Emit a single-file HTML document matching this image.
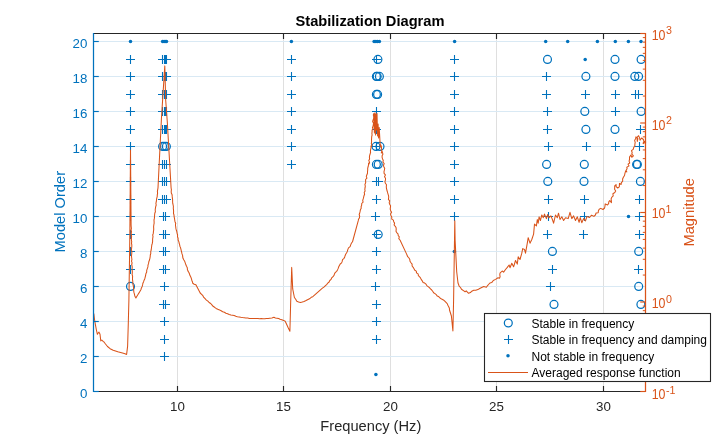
<!DOCTYPE html>
<html lang="en"><head><meta charset="utf-8"><title>Stabilization Diagram</title>
<style>html,body{margin:0;padding:0;background:#fff;overflow:hidden}svg text{white-space:pre}</style></head>
<body>
<svg width="714" height="440" viewBox="0 0 714 440" style="display:block" font-family="'Liberation Sans', Arial, Helvetica, sans-serif">
<rect width="714" height="440" fill="#fff"/>
<line x1="177.50" y1="33.5" x2="177.50" y2="391.5" stroke="#dfdfdf" stroke-width="1"/>
<line x1="283.50" y1="33.5" x2="283.50" y2="391.5" stroke="#dfdfdf" stroke-width="1"/>
<line x1="390.50" y1="33.5" x2="390.50" y2="391.5" stroke="#dfdfdf" stroke-width="1"/>
<line x1="496.50" y1="33.5" x2="496.50" y2="391.5" stroke="#dfdfdf" stroke-width="1"/>
<line x1="603.50" y1="33.5" x2="603.50" y2="391.5" stroke="#dfdfdf" stroke-width="1"/>
<line x1="93.5" y1="391.50" x2="645.5" y2="391.50" stroke="#d9e9f4" stroke-width="1"/>
<line x1="93.5" y1="356.50" x2="645.5" y2="356.50" stroke="#d9e9f4" stroke-width="1"/>
<line x1="93.5" y1="321.50" x2="645.5" y2="321.50" stroke="#d9e9f4" stroke-width="1"/>
<line x1="93.5" y1="286.50" x2="645.5" y2="286.50" stroke="#d9e9f4" stroke-width="1"/>
<line x1="93.5" y1="251.50" x2="645.5" y2="251.50" stroke="#d9e9f4" stroke-width="1"/>
<line x1="93.5" y1="216.50" x2="645.5" y2="216.50" stroke="#d9e9f4" stroke-width="1"/>
<line x1="93.5" y1="181.50" x2="645.5" y2="181.50" stroke="#d9e9f4" stroke-width="1"/>
<line x1="93.5" y1="146.50" x2="645.5" y2="146.50" stroke="#d9e9f4" stroke-width="1"/>
<line x1="93.5" y1="111.50" x2="645.5" y2="111.50" stroke="#d9e9f4" stroke-width="1"/>
<line x1="93.5" y1="76.50" x2="645.5" y2="76.50" stroke="#d9e9f4" stroke-width="1"/>
<line x1="93.5" y1="41.50" x2="645.5" y2="41.50" stroke="#d9e9f4" stroke-width="1"/>
<clipPath id="cp"><rect x="93.5" y="33.5" width="552.6" height="358.0"/></clipPath>
<g clip-path="url(#cp)">
<path d="M126.00 269.50H135.00M130.50 265.00V274.00M126.00 251.50H135.00M130.50 247.00V256.00M126.00 234.50H135.00M130.50 230.00V239.00M126.00 216.50H135.00M130.50 212.00V221.00M126.00 199.50H135.00M130.50 195.00V204.00M126.00 181.50H135.00M130.50 177.00V186.00M126.00 164.50H135.00M130.50 160.00V169.00M126.00 146.50H135.00M130.50 142.00V151.00M126.00 129.50H135.00M130.50 125.00V134.00M126.00 111.50H135.00M130.50 107.00V116.00M126.00 94.50H135.00M130.50 90.00V99.00M126.00 76.50H135.00M130.50 72.00V81.00M126.00 59.50H135.00M130.50 55.00V64.00M160.00 356.50H169.00M164.50 352.00V361.00M160.00 339.50H169.00M164.50 335.00V344.00M160.00 321.50H169.00M164.50 317.00V326.00M160.00 286.50H169.00M164.50 282.00V291.00M159.00 304.50H168.00M163.50 300.00V309.00M161.00 304.50H170.00M165.50 300.00V309.00M159.00 269.50H168.00M163.50 265.00V274.00M161.00 269.50H170.00M165.50 265.00V274.00M159.00 251.50H168.00M163.50 247.00V256.00M161.00 251.50H170.00M165.50 247.00V256.00M159.00 234.50H168.00M163.50 230.00V239.00M161.00 234.50H170.00M165.50 230.00V239.00M159.00 216.50H168.00M163.50 212.00V221.00M161.00 216.50H170.00M165.50 212.00V221.00M158.00 199.50H167.00M162.50 195.00V204.00M160.00 199.50H169.00M164.50 195.00V204.00M162.00 199.50H171.00M166.50 195.00V204.00M158.00 181.50H167.00M162.50 177.00V186.00M160.00 181.50H169.00M164.50 177.00V186.00M162.00 181.50H171.00M166.50 177.00V186.00M158.00 164.50H167.00M162.50 160.00V169.00M160.00 164.50H169.00M164.50 160.00V169.00M162.00 164.50H171.00M166.50 160.00V169.00M158.00 129.50H167.00M162.50 125.00V134.00M160.00 129.50H169.00M164.50 125.00V134.00M161.00 129.50H170.00M165.50 125.00V134.00M162.00 129.50H171.00M166.50 125.00V134.00M158.00 111.50H167.00M162.50 107.00V116.00M160.00 111.50H169.00M164.50 107.00V116.00M161.00 111.50H170.00M165.50 107.00V116.00M162.00 111.50H171.00M166.50 107.00V116.00M158.00 94.50H167.00M162.50 90.00V99.00M160.00 94.50H169.00M164.50 90.00V99.00M161.00 94.50H170.00M165.50 90.00V99.00M162.00 94.50H171.00M166.50 90.00V99.00M158.00 76.50H167.00M162.50 72.00V81.00M160.00 76.50H169.00M164.50 72.00V81.00M161.00 76.50H170.00M165.50 72.00V81.00M162.00 76.50H171.00M166.50 72.00V81.00M158.00 59.50H167.00M162.50 55.00V64.00M160.00 59.50H169.00M164.50 55.00V64.00M161.00 59.50H170.00M165.50 55.00V64.00M162.00 59.50H171.00M166.50 55.00V64.00M287.00 164.50H296.00M291.50 160.00V169.00M287.00 146.50H296.00M291.50 142.00V151.00M287.00 129.50H296.00M291.50 125.00V134.00M287.00 111.50H296.00M291.50 107.00V116.00M287.00 94.50H296.00M291.50 90.00V99.00M287.00 76.50H296.00M291.50 72.00V81.00M287.00 59.50H296.00M291.50 55.00V64.00M372.00 339.50H381.00M376.50 335.00V344.00M372.00 321.50H381.00M376.50 317.00V326.00M372.00 304.50H381.00M376.50 300.00V309.00M372.00 269.50H381.00M376.50 265.00V274.00M372.00 251.50H381.00M376.50 247.00V256.00M372.00 199.50H381.00M376.50 195.00V204.00M372.00 111.50H381.00M376.50 107.00V116.00M371.00 286.50H380.00M375.50 282.00V291.00M371.00 216.50H380.00M375.50 212.00V221.00M372.00 234.50H381.00M376.50 230.00V239.00M372.00 181.50H381.00M376.50 177.00V186.00M374.00 181.50H383.00M378.50 177.00V186.00M372.00 146.50H381.00M376.50 142.00V151.00M372.00 129.50H381.00M376.50 125.00V134.00M372.00 59.50H381.00M376.50 55.00V64.00M450.00 216.50H459.00M454.50 212.00V221.00M450.00 199.50H459.00M454.50 195.00V204.00M450.00 181.50H459.00M454.50 177.00V186.00M450.00 164.50H459.00M454.50 160.00V169.00M450.00 146.50H459.00M454.50 142.00V151.00M450.00 129.50H459.00M454.50 125.00V134.00M450.00 111.50H459.00M454.50 107.00V116.00M450.00 94.50H459.00M454.50 90.00V99.00M450.00 76.50H459.00M454.50 72.00V81.00M450.00 59.50H459.00M454.50 55.00V64.00M542.00 76.50H551.00M546.50 72.00V81.00M542.00 94.50H551.00M546.50 90.00V99.00M543.00 111.50H552.00M547.50 107.00V116.00M543.00 129.50H552.00M547.50 125.00V134.00M544.00 146.50H553.00M548.50 142.00V151.00M544.00 199.50H553.00M548.50 195.00V204.00M544.00 216.50H553.00M548.50 212.00V221.00M543.00 234.50H552.00M547.50 230.00V239.00M548.00 269.50H557.00M552.50 265.00V274.00M546.00 286.50H555.00M550.50 282.00V291.00M581.00 94.50H590.00M585.50 90.00V99.00M582.00 146.50H591.00M586.50 142.00V151.00M580.00 199.50H589.00M584.50 195.00V204.00M580.00 216.50H589.00M584.50 212.00V221.00M579.00 234.50H588.00M583.50 230.00V239.00M611.00 94.50H620.00M615.50 90.00V99.00M611.00 111.50H620.00M615.50 107.00V116.00M611.00 146.50H620.00M615.50 142.00V151.00M631.00 94.50H640.00M635.50 90.00V99.00M634.00 94.50H643.00M638.50 90.00V99.00M636.00 129.50H645.00M640.50 125.00V134.00M635.00 146.50H644.00M639.50 142.00V151.00M635.00 199.50H644.00M639.50 195.00V204.00M635.00 216.50H644.00M639.50 212.00V221.00M635.00 234.50H644.00M639.50 230.00V239.00M634.00 269.50H643.00M638.50 265.00V274.00" fill="none" stroke="#0072BD" stroke-width="1.1"/>
<g fill="none" stroke="#0072BD" stroke-width="1.25"><circle cx="130.50" cy="286.40" r="3.95"/><circle cx="162.60" cy="146.40" r="3.95"/><circle cx="164.50" cy="146.40" r="3.95"/><circle cx="166.40" cy="146.40" r="3.95"/><circle cx="378.20" cy="234.40" r="3.95"/><circle cx="376.40" cy="164.40" r="3.95"/><circle cx="378.20" cy="164.40" r="3.95"/><circle cx="376.00" cy="146.40" r="3.95"/><circle cx="380.00" cy="146.40" r="3.95"/><circle cx="376.40" cy="94.40" r="3.95"/><circle cx="377.60" cy="94.40" r="3.95"/><circle cx="376.40" cy="76.40" r="3.95"/><circle cx="377.20" cy="76.40" r="3.95"/><circle cx="379.40" cy="76.40" r="3.95"/><circle cx="377.90" cy="59.40" r="3.95"/><circle cx="547.50" cy="59.40" r="3.95"/><circle cx="546.60" cy="164.40" r="3.95"/><circle cx="547.80" cy="181.40" r="3.95"/><circle cx="552.40" cy="251.40" r="3.95"/><circle cx="554.00" cy="304.40" r="3.95"/><circle cx="585.90" cy="76.40" r="3.95"/><circle cx="584.80" cy="111.40" r="3.95"/><circle cx="585.90" cy="129.40" r="3.95"/><circle cx="584.30" cy="164.40" r="3.95"/><circle cx="584.00" cy="181.40" r="3.95"/><circle cx="615.00" cy="59.40" r="3.95"/><circle cx="615.00" cy="76.40" r="3.95"/><circle cx="615.00" cy="129.40" r="3.95"/><circle cx="641.10" cy="59.40" r="3.95"/><circle cx="634.80" cy="76.40" r="3.95"/><circle cx="638.60" cy="76.40" r="3.95"/><circle cx="641.10" cy="111.40" r="3.95"/><circle cx="636.60" cy="164.40" r="3.95"/><circle cx="637.40" cy="164.40" r="3.95"/><circle cx="640.40" cy="181.40" r="3.95"/><circle cx="638.70" cy="251.40" r="3.95"/><circle cx="638.70" cy="286.40" r="3.95"/><circle cx="640.90" cy="304.40" r="3.95"/></g>
<g fill="#0072BD"><circle cx="130.50" cy="41.50" r="1.75"/><circle cx="162.60" cy="41.50" r="1.75"/><circle cx="164.00" cy="41.50" r="1.75"/><circle cx="165.20" cy="41.50" r="1.75"/><circle cx="166.50" cy="41.50" r="1.75"/><circle cx="291.40" cy="41.50" r="1.75"/><circle cx="375.90" cy="374.50" r="1.75"/><circle cx="374.10" cy="41.50" r="1.75"/><circle cx="375.90" cy="41.50" r="1.75"/><circle cx="377.60" cy="41.50" r="1.75"/><circle cx="379.40" cy="41.50" r="1.75"/><circle cx="454.60" cy="41.50" r="1.75"/><circle cx="454.30" cy="251.50" r="1.75"/><circle cx="545.70" cy="41.50" r="1.75"/><circle cx="567.70" cy="41.50" r="1.75"/><circle cx="597.40" cy="41.50" r="1.75"/><circle cx="585.20" cy="59.50" r="1.75"/><circle cx="615.30" cy="41.50" r="1.75"/><circle cx="628.40" cy="41.50" r="1.75"/><circle cx="641.00" cy="41.50" r="1.75"/><circle cx="628.50" cy="216.50" r="1.75"/></g>
<path d="M93.8 313.5 L94.6 320.0 L95.4 324.7 L96.4 330.0 L97.4 334.3 L98.2 333.0 L99.0 332.1 L100.0 334.3 L100.8 341.0 L101.8 340.0 L103.1 341.4 L104.0 342.0 L105.5 344.0 L107.5 346.5 L110.1 348.7 L113.2 350.2 L117.8 351.8 L122.5 353.0 L125.0 353.8 L126.6 354.4 L127.6 346.4 L128.3 323.2 L128.9 300.0 L129.5 260.0 L129.9 230.0 L130.5 150.1 L131.1 225.0 L131.2 226.7 L131.4 228.3 L131.1 230.0 L131.5 231.7 L131.2 233.3 L131.4 235.0 L131.6 236.7 L131.4 238.3 L131.4 240.0 L131.7 241.6 L131.5 243.3 L131.8 244.9 L131.8 246.5 L131.6 248.2 L131.4 249.8 L131.9 251.4 L131.8 253.1 L131.6 254.7 L131.5 256.3 L131.7 258.0 L131.9 259.6 L131.5 261.2 L132.1 262.9 L131.7 264.5 L132.1 266.1 L132.2 267.8 L132.0 269.4 L132.3 271.1 L132.3 272.8 L132.1 274.5 L132.6 276.2 L132.5 277.9 L132.5 279.6 L132.8 281.3 L132.8 283.0 L133.0 284.6 L133.4 286.2 L133.6 287.8 L133.7 289.4 L133.7 291.0 L134.0 292.7 L134.5 294.3 L134.8 296.0 L135.9 298.0 L136.9 296.2 L138.0 294.5 L139.0 292.9 L140.0 291.2 L141.0 289.5 L141.4 287.9 L142.2 286.4 L142.6 284.9 L142.9 283.2 L143.6 281.7 L144.1 280.2 L144.8 278.7 L145.2 277.1 L145.6 275.5 L145.9 273.7 L146.7 272.1 L146.7 270.3 L147.3 268.6 L147.9 266.9 L148.0 265.1 L148.6 263.4 L148.8 261.7 L149.5 260.0 L149.9 258.3 L150.2 256.7 L150.3 255.0 L150.8 253.4 L150.7 251.6 L151.2 250.0 L151.4 248.3 L151.6 246.7 L151.8 245.0 L152.3 243.4 L152.6 241.7 L152.6 240.0 L152.7 238.3 L153.0 236.7 L152.7 235.0 L153.3 233.4 L153.4 231.7 L153.7 230.0 L153.7 228.4 L153.6 226.7 L153.8 225.0 L154.1 223.4 L154.1 221.7 L154.0 220.0 L154.4 218.4 L154.5 216.7 L154.6 215.0 L154.8 213.3 L155.4 211.7 L155.2 210.0 L155.4 208.3 L155.7 206.7 L156.2 205.0 L155.9 203.3 L156.3 201.7 L156.5 200.0 L156.7 198.3 L157.2 196.6 L157.3 194.9 L157.6 193.2 L157.4 191.4 L157.7 189.7 L158.0 188.0 L161.4 119.0 L164.8 65.9 L165.7 100.2 L167.3 122.0 L171.1 188.0 L171.4 189.7 L171.2 191.4 L171.3 193.1 L172.1 194.7 L172.2 196.4 L172.4 198.1 L172.6 199.8 L172.6 201.5 L172.7 203.2 L173.1 204.9 L173.4 206.5 L173.3 208.2 L173.5 209.9 L173.6 211.6 L173.5 213.3 L174.0 215.0 L174.1 216.7 L174.5 218.3 L174.7 220.0 L175.0 221.7 L175.7 223.3 L175.4 225.0 L175.7 226.7 L175.9 228.4 L176.3 230.0 L176.8 231.7 L177.1 233.3 L177.6 235.0 L177.5 236.7 L178.1 238.3 L178.1 240.0 L178.8 241.5 L179.1 243.0 L179.6 244.6 L179.9 246.2 L180.5 247.6 L180.9 249.2 L181.3 250.8 L181.7 252.3 L182.0 253.9 L182.6 255.4 L182.7 257.0 L183.1 258.6 L183.9 260.1 L184.8 261.6 L185.3 263.1 L185.9 264.7 L186.5 266.3 L187.3 267.8 L187.4 269.5 L188.0 271.1 L188.9 272.5 L189.5 274.0 L190.0 275.6 L190.8 277.0 L191.4 278.6 L191.8 280.2 L192.4 281.7 L192.8 283.3 L194.2 284.3 L195.9 284.8 L200.2 293.0 L201.6 294.3 L202.9 295.7 L203.8 297.4 L205.1 298.7 L206.4 300.1 L207.9 301.2 L209.1 302.5 L210.7 303.5 L211.9 304.9 L213.1 306.3 L214.6 307.3 L216.1 308.4 L217.8 309.2 L219.5 309.9 L221.1 310.8 L222.7 311.8 L224.4 312.3 L225.9 313.2 L227.6 313.7 L229.2 314.4 L230.9 314.9 L232.6 315.2 L234.2 315.6 L235.8 316.3 L237.4 316.7 L239.1 316.9 L240.8 317.3 L242.5 317.6 L244.2 317.8 L245.9 318.0 L247.7 318.0 L249.4 318.4 L251.1 318.5 L252.8 318.5 L254.5 318.4 L256.2 318.4 L257.9 318.6 L259.6 318.8 L261.3 318.6 L263.0 318.7 L264.7 318.7 L266.4 318.4 L268.1 318.5 L269.8 318.2 L271.9 318.0 L273.9 317.3 L275.4 318.0 L277.0 318.2 L278.6 318.6 L280.1 319.2 L281.8 319.7 L283.6 320.4 L285.2 321.2 L288.2 327.8 L289.9 331.3 L290.7 301.2 L291.7 267.4 L292.7 288.9 L294.4 297.5 L295.7 299.3 L296.8 301.2 L298.6 301.9 L300.5 302.4 L302.3 302.1 L304.0 301.5 L305.6 300.8 L307.0 300.0 L308.5 299.2 L310.0 298.5 L311.2 297.3 L312.8 296.7 L321.0 289.3 L322.4 288.2 L323.9 287.1 L325.2 285.8 L326.6 284.6 L327.7 283.2 L329.1 282.0 L329.8 280.5 L331.1 279.4 L331.7 277.8 L333.0 276.7 L334.0 275.4 L334.5 273.8 L335.4 272.4 L336.7 271.3 L337.5 269.9 L338.2 268.4 L338.7 266.8 L339.4 265.4 L340.2 264.0 L341.6 262.9 L342.2 261.4 L342.5 259.7 L343.8 258.6 L344.6 257.3 L345.1 255.7 L345.7 254.2 L346.6 252.8 L347.3 251.4 L347.8 249.6 L348.5 247.9 L350.1 246.7 L350.7 244.9 L351.4 243.3 L352.5 241.8 L353.0 240.0 L358.2 220.9 L358.5 219.3 L359.4 217.9 L359.7 216.3 L359.2 214.5 L359.7 213.0 L360.1 211.4 L360.4 209.8 L361.2 208.3 L361.1 206.7 L361.7 205.1 L361.7 203.5 L363.1 202.1 L362.7 200.4 L363.2 198.9 L363.6 197.3 L364.0 195.7 L364.6 194.2 L364.2 192.5 L365.1 191.0 L364.8 189.3 L365.1 187.7 L365.3 186.1 L364.9 184.4 L365.7 182.8 L365.6 181.2 L365.6 179.5 L366.9 178.1 L366.3 176.4 L366.9 174.8 L367.5 173.3 L367.5 171.6 L367.7 170.0 L367.7 168.2 L368.2 166.5 L368.5 164.8 L368.6 163.0 L369.0 164.0 L369.6 162.4 L368.8 160.6 L369.6 159.0 L369.4 157.3 L369.6 155.6 L370.1 154.0 L370.6 152.4 L370.4 150.8 L370.7 149.2 L371.1 147.6 L370.9 146.0 L371.2 147.0 L371.9 145.3 L371.3 143.5 L371.6 141.8 L371.5 140.1 L371.6 138.3 L371.7 136.6 L372.1 135.0 L371.9 133.4 L372.1 131.8 L372.1 130.2 L372.9 128.6 L372.4 127.0 L372.6 128.0 L373.0 126.4 L373.3 124.8 L373.5 123.2 L372.6 121.5 L373.1 119.9 L373.7 118.3 L373.7 116.7 L373.3 115.0 L373.9 113.5 L374.4 133.0 L375.0 112.7 L375.6 135.0 L376.1 114.0 L376.6 130.0 L377.0 113.5 L377.6 136.0 L378.1 124.0 L378.6 138.0 L379.2 127.5 L379.8 138.0 L380.3 147.0 L380.8 145.0 L381.4 146.6 L381.6 148.2 L381.2 149.8 L381.8 151.4 L381.3 153.0 L382.0 151.0 L382.5 152.6 L382.9 154.2 L382.1 155.8 L382.1 157.4 L382.6 159.0 L383.3 160.4 L382.9 162.1 L384.2 163.5 L383.5 165.2 L383.8 166.8 L384.7 168.3 L384.4 170.0 L384.0 171.7 L384.1 173.4 L385.4 174.9 L384.5 176.7 L385.5 178.3 L385.5 179.9 L384.9 181.7 L385.4 183.3 L386.5 184.8 L386.3 186.5 L386.4 188.2 L387.0 190.5 L387.6 192.7 L388.1 194.3 L388.6 195.9 L388.7 197.6 L388.4 199.3 L389.7 200.8 L389.2 202.6 L389.6 204.2 L390.6 205.7 L390.4 207.4 L390.2 209.1 L390.7 210.7 L391.6 212.3 L390.5 214.1 L391.1 215.7 L391.8 217.3 L391.7 219.1 L393.4 220.1 L393.7 221.7 L394.6 223.1 L394.1 225.0 L395.3 226.3 L396.1 227.7 L396.2 229.4 L396.0 231.2 L396.7 232.6 L398.0 233.9 L398.2 235.5 L399.3 236.8 L398.8 238.7 L400.0 240.0 L406.4 253.6 L407.1 255.2 L407.7 256.7 L409.0 258.0 L409.8 259.5 L410.0 261.3 L411.0 262.7 L412.1 264.1 L412.1 266.0 L413.2 267.3 L414.0 268.7 L414.8 270.2 L416.3 271.1 L416.5 272.9 L418.1 273.9 L418.4 275.7 L419.6 276.8 L420.6 278.1 L421.3 279.6 L422.3 280.9 L423.1 282.4 L424.7 283.1 L426.0 284.2 L426.8 285.6 L428.1 286.6 L429.4 287.7 L430.5 288.9 L431.7 290.0 L432.7 291.3 L433.6 292.7 L435.0 293.6 L436.3 294.7 L437.3 296.1 L438.9 296.8 L440.0 298.0 L441.6 299.1 L443.4 299.9 L444.8 301.2 L446.0 302.4 L447.2 303.6 L447.9 305.2 L448.7 306.7 L449.4 308.2 L449.5 310.0 L451.4 316.0 L452.9 331.0 L453.6 300.0 L454.8 220.7 L455.1 240.0 L455.9 255.9 L456.7 271.8 L457.8 281.3 L458.0 283.0 L458.6 284.5 L459.1 286.1 L460.5 287.5 L461.5 289.3 L463.8 290.9 L465.1 291.8 L466.2 290.9 L467.4 292.1 L468.6 293.3 L470.4 292.6 L471.8 291.2 L473.7 290.3 L475.8 290.2 L477.9 289.6 L479.7 288.5 L481.7 287.5 L483.7 286.6 L486.4 287.2 L487.4 285.8 L488.5 284.5 L490.1 282.9 L491.7 282.6 L493.3 280.5 L495.6 279.4 L498.0 277.8 L499.6 278.2 L500.1 276.6 L499.8 274.8 L500.0 273.2 L502.2 271.0 L503.6 272.1 L505.5 269.5 L507.3 267.4 L509.1 265.0 L510.0 267.7 L511.8 263.2 L513.6 266.8 L515.5 260.5 L517.3 264.1 L518.2 256.8 L520.0 259.5 L521.8 253.2 L522.7 248.6 L524.5 249.5 L525.5 253.2 L527.3 243.2 L528.2 237.7 L530.0 243.2 L531.8 239.5 L533.6 234.1 L534.5 224.1 L536.4 225.9 L537.3 219.5 L538.2 223.2 L539.1 216.8 L540.4 220.5 L541.8 215.0 L543.3 217.7 L544.5 214.1 L546.4 218.6 L547.6 214.6 L549.1 217.7 L550.9 215.9 L552.4 219.5 L553.6 223.2 L555.5 215.0 L557.3 217.7 L558.5 213.2 L560.0 219.5 L561.8 216.8 L563.6 220.5 L565.5 217.7 L568.2 218.6 L570.0 212.3 L571.8 218.6 L573.6 215.9 L575.5 220.5 L577.3 216.8 L579.1 222.3 L580.2 217.5 L581.8 222.7 L583.6 218.6 L585.5 220.9 L587.0 216.4 L589.3 217.5 L590.5 216.4 L591.6 215.2 L593.9 216.4 L595.4 215.0 L596.1 213.0 L598.2 212.8 L598.4 210.7 L599.2 209.2 L600.7 208.4 L603.0 209.5 L604.6 208.0 L605.0 206.0 L605.2 203.9 L607.5 205.0 L608.6 203.7 L608.8 201.9 L609.8 200.5 L611.4 202.7 L611.4 200.9 L611.1 199.0 L611.7 197.3 L613.2 195.9 L612.9 193.7 L614.8 192.5 L615.7 191.0 L614.6 189.2 L614.7 187.6 L614.7 185.9 L616.1 184.5 L616.1 186.7 L617.7 188.0 L619.3 186.8 L619.4 185.1 L619.5 183.4 L621.1 184.5 L621.4 182.6 L622.7 181.1 L622.6 179.0 L623.4 177.2 L624.5 175.5 L625.0 173.2 L625.7 170.9 L626.8 172.0 L626.1 170.3 L627.1 168.8 L626.8 167.2 L629.0 165.9 L628.0 164.1 L629.7 163.0 L629.1 161.1 L629.5 159.5 L629.5 157.1 L630.9 155.0 L631.8 157.3 L633.4 155.9 L631.8 154.0 L632.2 152.4 L631.5 150.7 L633.2 149.3 L633.7 147.5 L634.8 145.9 L634.9 144.1 L635.2 142.3 L634.6 140.4 L635.7 138.6 L635.9 136.8 L637.9 138.7 L637.3 141.4 L637.1 139.3 L637.1 137.3 L638.6 135.7 L639.6 137.9 L640.0 140.2 L641.6 138.0 L643.4 139.5 L643.9 141.4 L643.2 143.6 L645.0 141.4 L646.4 142.7 L646.2 141.6" fill="none" stroke="#D95319" stroke-width="1.05" stroke-linejoin="round"/>
</g>
<line x1="93.5" y1="33.5" x2="645.5" y2="33.5" stroke="#262626" stroke-width="1.15"/>
<line x1="93.5" y1="391.5" x2="645.5" y2="391.5" stroke="#262626" stroke-width="1.15"/>
<line x1="177.50" y1="391.5" x2="177.50" y2="386.0" stroke="#262626" stroke-width="1.15"/>
<line x1="177.50" y1="33.5" x2="177.50" y2="39.0" stroke="#262626" stroke-width="1.15"/>
<text x="177.50" y="411.3" font-size="13.33" fill="#262626" text-anchor="middle">10</text>
<line x1="283.50" y1="391.5" x2="283.50" y2="386.0" stroke="#262626" stroke-width="1.15"/>
<line x1="283.50" y1="33.5" x2="283.50" y2="39.0" stroke="#262626" stroke-width="1.15"/>
<text x="283.50" y="411.3" font-size="13.33" fill="#262626" text-anchor="middle">15</text>
<line x1="390.50" y1="391.5" x2="390.50" y2="386.0" stroke="#262626" stroke-width="1.15"/>
<line x1="390.50" y1="33.5" x2="390.50" y2="39.0" stroke="#262626" stroke-width="1.15"/>
<text x="390.50" y="411.3" font-size="13.33" fill="#262626" text-anchor="middle">20</text>
<line x1="496.50" y1="391.5" x2="496.50" y2="386.0" stroke="#262626" stroke-width="1.15"/>
<line x1="496.50" y1="33.5" x2="496.50" y2="39.0" stroke="#262626" stroke-width="1.15"/>
<text x="496.50" y="411.3" font-size="13.33" fill="#262626" text-anchor="middle">25</text>
<line x1="603.50" y1="391.5" x2="603.50" y2="386.0" stroke="#262626" stroke-width="1.15"/>
<line x1="603.50" y1="33.5" x2="603.50" y2="39.0" stroke="#262626" stroke-width="1.15"/>
<text x="603.50" y="411.3" font-size="13.33" fill="#262626" text-anchor="middle">30</text>
<line x1="93.5" y1="32.95" x2="93.5" y2="392.05" stroke="#0072BD" stroke-width="1.25"/>
<line x1="93.5" y1="391.50" x2="98.8" y2="391.50" stroke="#0072BD" stroke-width="1.15"/>
<text x="87.3" y="398.00" font-size="13.33" fill="#0072BD" text-anchor="end">0</text>
<line x1="93.5" y1="356.50" x2="98.8" y2="356.50" stroke="#0072BD" stroke-width="1.15"/>
<text x="87.3" y="363.00" font-size="13.33" fill="#0072BD" text-anchor="end">2</text>
<line x1="93.5" y1="321.50" x2="98.8" y2="321.50" stroke="#0072BD" stroke-width="1.15"/>
<text x="87.3" y="328.00" font-size="13.33" fill="#0072BD" text-anchor="end">4</text>
<line x1="93.5" y1="286.50" x2="98.8" y2="286.50" stroke="#0072BD" stroke-width="1.15"/>
<text x="87.3" y="293.00" font-size="13.33" fill="#0072BD" text-anchor="end">6</text>
<line x1="93.5" y1="251.50" x2="98.8" y2="251.50" stroke="#0072BD" stroke-width="1.15"/>
<text x="87.3" y="258.00" font-size="13.33" fill="#0072BD" text-anchor="end">8</text>
<line x1="93.5" y1="216.50" x2="98.8" y2="216.50" stroke="#0072BD" stroke-width="1.15"/>
<text x="87.3" y="223.00" font-size="13.33" fill="#0072BD" text-anchor="end">10</text>
<line x1="93.5" y1="181.50" x2="98.8" y2="181.50" stroke="#0072BD" stroke-width="1.15"/>
<text x="87.3" y="188.00" font-size="13.33" fill="#0072BD" text-anchor="end">12</text>
<line x1="93.5" y1="146.50" x2="98.8" y2="146.50" stroke="#0072BD" stroke-width="1.15"/>
<text x="87.3" y="153.00" font-size="13.33" fill="#0072BD" text-anchor="end">14</text>
<line x1="93.5" y1="111.50" x2="98.8" y2="111.50" stroke="#0072BD" stroke-width="1.15"/>
<text x="87.3" y="118.00" font-size="13.33" fill="#0072BD" text-anchor="end">16</text>
<line x1="93.5" y1="76.50" x2="98.8" y2="76.50" stroke="#0072BD" stroke-width="1.15"/>
<text x="87.3" y="83.00" font-size="13.33" fill="#0072BD" text-anchor="end">18</text>
<line x1="93.5" y1="41.50" x2="98.8" y2="41.50" stroke="#0072BD" stroke-width="1.15"/>
<text x="87.3" y="48.00" font-size="13.33" fill="#0072BD" text-anchor="end">20</text>
<line x1="645.5" y1="32.95" x2="645.5" y2="392.05" stroke="#D95319" stroke-width="1.25"/>
<line x1="645.5" y1="391.50" x2="640.2" y2="391.50" stroke="#D95319" stroke-width="1.15"/>
<text transform="translate(651.7,398.9) scale(0.93,1.06)" font-size="13.33" fill="#D95319">10</text>
<text x="666.0" y="393.7" font-size="10.67" fill="#D95319">-1</text>
<line x1="645.5" y1="364.56" x2="642.8" y2="364.56" stroke="#D95319" stroke-width="1"/>
<line x1="645.5" y1="348.80" x2="642.8" y2="348.80" stroke="#D95319" stroke-width="1"/>
<line x1="645.5" y1="337.62" x2="642.8" y2="337.62" stroke="#D95319" stroke-width="1"/>
<line x1="645.5" y1="328.94" x2="642.8" y2="328.94" stroke="#D95319" stroke-width="1"/>
<line x1="645.5" y1="321.86" x2="642.8" y2="321.86" stroke="#D95319" stroke-width="1"/>
<line x1="645.5" y1="315.86" x2="642.8" y2="315.86" stroke="#D95319" stroke-width="1"/>
<line x1="645.5" y1="310.67" x2="642.8" y2="310.67" stroke="#D95319" stroke-width="1"/>
<line x1="645.5" y1="306.10" x2="642.8" y2="306.10" stroke="#D95319" stroke-width="1"/>
<line x1="645.5" y1="302.00" x2="640.2" y2="302.00" stroke="#D95319" stroke-width="1.15"/>
<text transform="translate(651.7,308.2) scale(0.93,1.06)" font-size="13.33" fill="#D95319">10</text>
<text x="666.0" y="302.95" font-size="10.67" fill="#D95319">0</text>
<line x1="645.5" y1="275.06" x2="642.8" y2="275.06" stroke="#D95319" stroke-width="1"/>
<line x1="645.5" y1="259.30" x2="642.8" y2="259.30" stroke="#D95319" stroke-width="1"/>
<line x1="645.5" y1="248.12" x2="642.8" y2="248.12" stroke="#D95319" stroke-width="1"/>
<line x1="645.5" y1="239.44" x2="642.8" y2="239.44" stroke="#D95319" stroke-width="1"/>
<line x1="645.5" y1="232.36" x2="642.8" y2="232.36" stroke="#D95319" stroke-width="1"/>
<line x1="645.5" y1="226.36" x2="642.8" y2="226.36" stroke="#D95319" stroke-width="1"/>
<line x1="645.5" y1="221.17" x2="642.8" y2="221.17" stroke="#D95319" stroke-width="1"/>
<line x1="645.5" y1="216.60" x2="642.8" y2="216.60" stroke="#D95319" stroke-width="1"/>
<line x1="645.5" y1="212.50" x2="640.2" y2="212.50" stroke="#D95319" stroke-width="1.15"/>
<text transform="translate(651.7,218.2) scale(0.93,1.06)" font-size="13.33" fill="#D95319">10</text>
<text x="665.6" y="212.95" font-size="10.67" fill="#D95319">1</text>
<line x1="645.5" y1="185.56" x2="642.8" y2="185.56" stroke="#D95319" stroke-width="1"/>
<line x1="645.5" y1="169.80" x2="642.8" y2="169.80" stroke="#D95319" stroke-width="1"/>
<line x1="645.5" y1="158.62" x2="642.8" y2="158.62" stroke="#D95319" stroke-width="1"/>
<line x1="645.5" y1="149.94" x2="642.8" y2="149.94" stroke="#D95319" stroke-width="1"/>
<line x1="645.5" y1="142.86" x2="642.8" y2="142.86" stroke="#D95319" stroke-width="1"/>
<line x1="645.5" y1="136.86" x2="642.8" y2="136.86" stroke="#D95319" stroke-width="1"/>
<line x1="645.5" y1="131.67" x2="642.8" y2="131.67" stroke="#D95319" stroke-width="1"/>
<line x1="645.5" y1="127.10" x2="642.8" y2="127.10" stroke="#D95319" stroke-width="1"/>
<line x1="645.5" y1="123.00" x2="640.2" y2="123.00" stroke="#D95319" stroke-width="1.15"/>
<text transform="translate(651.7,129.55) scale(0.93,1.06)" font-size="13.33" fill="#D95319">10</text>
<text x="666.0" y="124.35" font-size="10.67" fill="#D95319">2</text>
<line x1="645.5" y1="96.06" x2="642.8" y2="96.06" stroke="#D95319" stroke-width="1"/>
<line x1="645.5" y1="80.30" x2="642.8" y2="80.30" stroke="#D95319" stroke-width="1"/>
<line x1="645.5" y1="69.12" x2="642.8" y2="69.12" stroke="#D95319" stroke-width="1"/>
<line x1="645.5" y1="60.44" x2="642.8" y2="60.44" stroke="#D95319" stroke-width="1"/>
<line x1="645.5" y1="53.36" x2="642.8" y2="53.36" stroke="#D95319" stroke-width="1"/>
<line x1="645.5" y1="47.36" x2="642.8" y2="47.36" stroke="#D95319" stroke-width="1"/>
<line x1="645.5" y1="42.17" x2="642.8" y2="42.17" stroke="#D95319" stroke-width="1"/>
<line x1="645.5" y1="37.60" x2="642.8" y2="37.60" stroke="#D95319" stroke-width="1"/>
<line x1="645.5" y1="33.50" x2="640.2" y2="33.50" stroke="#D95319" stroke-width="1.15"/>
<text transform="translate(651.7,39.5) scale(0.93,1.06)" font-size="13.33" fill="#D95319">10</text>
<text x="666.0" y="34.3" font-size="10.67" fill="#D95319">3</text>
<text x="370" y="26.3" font-size="14.67" font-weight="bold" fill="#000" text-anchor="middle">Stabilization Diagram</text>
<text x="370.8" y="430.7" font-size="14.67" fill="#262626" text-anchor="middle">Frequency (Hz)</text>
<text transform="translate(65,211.7) rotate(-90)" font-size="14.67" fill="#0072BD" text-anchor="middle">Model Order</text>
<text transform="translate(694,212.3) rotate(-90)" font-size="14.67" fill="#D95319" text-anchor="middle">Magnitude</text>
<rect x="484.5" y="313.5" width="226" height="68" fill="#fff" stroke="#262626" stroke-width="1.1"/>
<circle cx="508.3" cy="323" r="3.95" fill="none" stroke="#0072BD" stroke-width="1.25"/>
<path d="M504.00 339.50H513.00M508.50 335.00V344.00" fill="none" stroke="#0072BD" stroke-width="1.1"/>
<circle cx="508" cy="355.7" r="1.75" fill="#0072BD"/>
<line x1="488" y1="372.5" x2="528" y2="372.5" stroke="#D95319" stroke-width="1.05"/>
<text x="531.5" y="327.6" font-size="12" fill="#000">Stable in frequency</text>
<text x="531.5" y="344" font-size="12" fill="#000">Stable in frequency and damping</text>
<text x="531.5" y="360.6" font-size="12" fill="#000">Not stable in frequency</text>
<text x="531.5" y="376.8" font-size="12" fill="#000">Averaged response function</text>
</svg>
</body></html>
